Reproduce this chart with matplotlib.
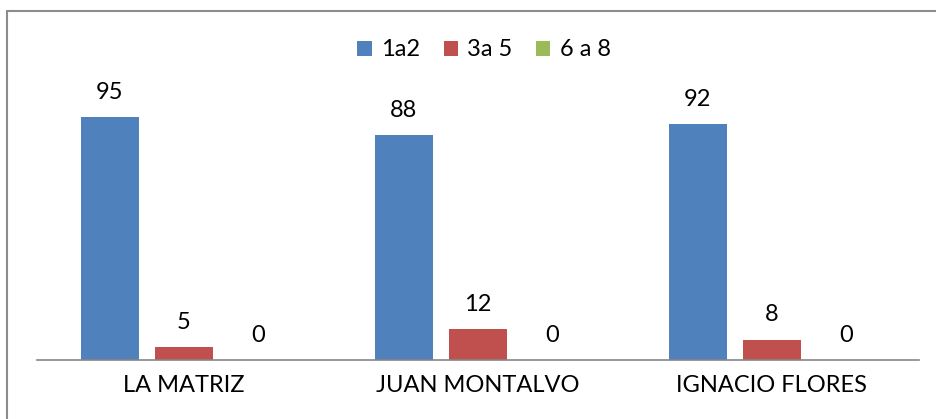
import matplotlib
matplotlib.use('Agg')
import matplotlib.pyplot as plt
from matplotlib.patches import Rectangle
import numpy as np

categories = ['LA MATRIZ', 'JUAN MONTALVO', 'IGNACIO FLORES']
series_names = ['1a2', '3a 5', '6 a 8']
values_1a2 = [95, 88, 92]
values_3a5 = [5, 12, 8]
values_6a8 = [0, 0, 0]
colors = ['#4F81BD', '#C0504D', '#9BBB59']

plt.rcParams['font.family'] = ['Lato', 'DejaVu Sans']
W, H = 937, 419
fig = plt.figure(figsize=(W / 100, H / 100), dpi=100)
ax = fig.add_axes([37 / W, (H - 360) / H, (919 - 37) / W, (360 - 104) / H])

x = np.arange(len(categories))
width = 0.2
offsets = [-0.252, 0, 0.252]
all_values = [values_1a2, values_3a5, values_6a8]
for vals, off, col, name in zip(all_values, offsets, colors, series_names):
    bars = ax.bar(x + off, vals, width, color=col, label=name)
    for b, v in zip(bars, vals):
        ax.annotate(str(v), (b.get_x() + b.get_width() / 2, v),
                    xytext=(0, 13), textcoords='offset points',
                    ha='center', va='baseline', fontsize=17)

ax.set_xlim(-0.5, 2.5)
ax.set_ylim(0, 100)
ax.set_yticks([])
ax.set_xticks(x)
ax.set_xticklabels(categories, fontsize=17)
ax.tick_params(axis='x', length=0, pad=11)
for s in ['top', 'right', 'left']:
    ax.spines[s].set_visible(False)
ax.spines['bottom'].set_color('#868686')
ax.spines['bottom'].set_linewidth(1.2)

fig.legend(loc='center', bbox_to_anchor=(484 / W, (H - 50) / H), ncol=3,
           frameon=False, fontsize=17, handlelength=0.6, handleheight=0.6,
           handletextpad=0.4, columnspacing=1.0)

# outer chart frame (left and top edges visible)
fig.add_artist(Rectangle((7 / W, -0.5), 1.5, 1.5 - 11 / H,
                         transform=fig.transFigure, fill=False,
                         edgecolor='#8c8c8c', linewidth=1.5))

fig.savefig('out.png', dpi=100)
